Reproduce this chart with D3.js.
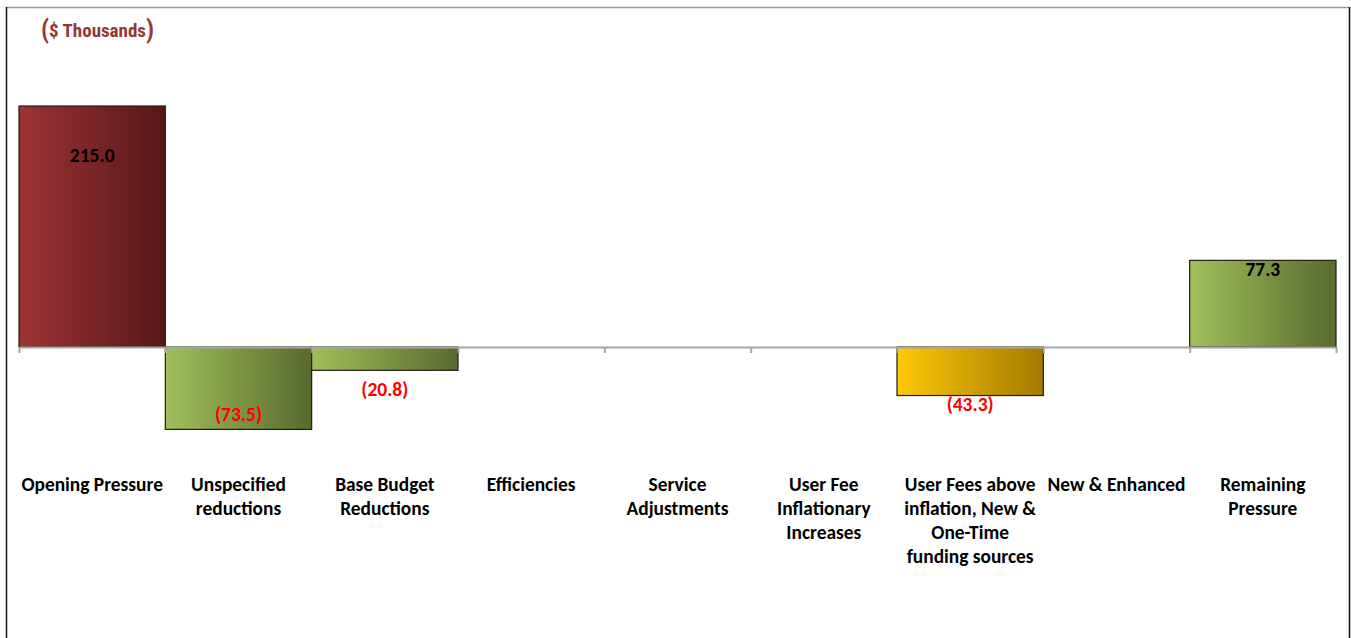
<!DOCTYPE html>
<html>
<head>
<meta charset="utf-8">
<script src="https://cdn.jsdelivr.net/npm/d3@7"></script>
<style>
  body { margin: 0; background: #fff; }
  svg { display: block; }
  .cat { font-family: Carlito, Calibri, Lato, sans-serif; font-weight: bold; font-size: 19.4px; fill: #000; }
  .val { font-family: Carlito, Calibri, Lato, sans-serif; font-weight: 900; font-size: 19.5px; }
</style>
</head>
<body>
<div id="chart"></div>
<script>
// categories (line-broken like the original) and values in $ thousands
var categories = ["Opening Pressure", "Unspecified reductions", "Base Budget Reductions", "Efficiencies",
                  "Service Adjustments", "User Fee Inflationary Increases",
                  "User Fees above inflation, New & One-Time funding sources", "New & Enhanced", "Remaining Pressure"];
var catLines = [["Opening Pressure"], ["Unspecified", "reductions"], ["Base Budget", "Reductions"], ["Efficiencies"],
                ["Service", "Adjustments"], ["User Fee", "Inflationary", "Increases"],
                ["User Fees above", "inflation, New &", "One-Time", "funding sources"], ["New & Enhanced"], ["Remaining", "Pressure"]];
var values = [215.0, -73.5, -20.8, 0, 0, 0, -43.3, 0, 77.3];
var valueLabels = ["215.0", "(73.5)", "(20.8)", "", "", "", "(43.3)", "", "77.3"];
var barKind = ["red", "green", "green", "green", "green", "green", "gold", "green", "green"];

var width = 1351, height = 638;
var zeroY = 347, k = 241 / 215;   // px per $ thousand

var svg = d3.select("#chart").append("svg")
            .attr("width", width)
            .attr("height", height);

var defs = svg.append("defs");
var grads = {
  red:   ["#9e3234", "#561618"],
  green: ["#a0c05a", "#586a2e"],
  gold:  ["#ffc808", "#a27a00"]
};
Object.keys(grads).forEach(function(key){
  var g = defs.append("linearGradient").attr("id", "g_" + key)
              .attr("x1", "0%").attr("x2", "100%").attr("y1", "0%").attr("y2", "0%");
  g.append("stop").attr("offset", "0%").attr("stop-color", grads[key][0]);
  g.append("stop").attr("offset", "100%").attr("stop-color", grads[key][1]);
});

// frame
svg.append("line").attr("x1", 7).attr("x2", 1349).attr("y1", 7.5).attr("y2", 7.5)
   .attr("stroke", "#9a9a9a").attr("stroke-width", 1.5);
svg.append("line").attr("x1", 6.5).attr("x2", 6.5).attr("y1", 7).attr("y2", height)
   .attr("stroke", "#111").attr("stroke-width", 1.5);
svg.append("line").attr("x1", 1349.5).attr("x2", 1349.5).attr("y1", 7).attr("y2", height)
   .attr("stroke", "#111").attr("stroke-width", 1.5);

// title
var title = svg.append("text")
   .attr("x", 41).attr("y", 38)
   .attr("fill", "#953735")
   .style("font-family", "'Liberation Sans Narrow', 'Arial Narrow', 'Roboto Condensed', sans-serif")
   .style("font-weight", "bold");
title.append("tspan").style("font-size", "25px").text("(");
title.append("tspan").style("font-size", "19px").attr("dy", -1).text("$ Thousands");
title.append("tspan").style("font-size", "25px").attr("dy", 1).text(")");

var x = d3.scaleBand().domain(categories).range([19, 1336]).padding(0);
var y = d3.scaleLinear().domain([-100, 250]).range([zeroY + 100 * k, zeroY - 250 * k]);

// bars
svg.append("g").attr("class", "bars")
   .selectAll("rect")
   .data(values.map(function(v, i){ return {v: v, i: i}; }).filter(function(d){ return d.v !== 0; }))
   .enter().append("rect")
   .attr("x", function(d){ return x(categories[d.i]); })
   .attr("width", x.bandwidth())
   .attr("y", function(d){ return y(Math.max(0, d.v)); })
   .attr("height", function(d){ return Math.abs(y(d.v) - y(0)); })
   .attr("fill", function(d){ return "url(#g_" + barKind[d.i] + ")"; })
   .attr("stroke", "#1e1e14")
   .attr("stroke-width", 1.2);

// axis: line at zero with ticks between categories
var tickScale = d3.scaleLinear().domain([0, categories.length]).range([19, 1336]);
var axis = svg.append("g").attr("transform", "translate(0," + y(0) + ")")
   .call(d3.axisBottom(tickScale).ticks(categories.length).tickFormat("").tickSizeInner(6).tickSizeOuter(0));
axis.select(".domain").attr("stroke", "#a6a6a6").attr("stroke-width", 2);
axis.selectAll(".tick line").attr("stroke", "#a6a6a6").attr("stroke-width", 2);

// value labels, nudged per bar the way the original was placed
var labelDy = {0: 56, 1: -8, 2: 26, 6: 15, 8: 16};
svg.append("g").selectAll("text")
   .data(values.map(function(v, i){ return {v: v, i: i}; }).filter(function(d){ return valueLabels[d.i] !== ""; }))
   .enter().append("text")
   .attr("class", "val")
   .attr("text-anchor", "middle")
   .attr("x", function(d){ return x(categories[d.i]) + x.bandwidth() / 2; })
   .attr("y", function(d){ return y(d.v) + labelDy[d.i]; })
   .attr("fill", function(d){ return d.v < 0 ? "#ff0000" : "#000"; })
   .text(function(d){ return valueLabels[d.i]; });

// category labels
var cat = svg.append("g").selectAll("text")
   .data(categories)
   .enter().append("text")
   .attr("class", "cat")
   .attr("text-anchor", "middle")
   .attr("x", function(d){ return x(d) + x.bandwidth() / 2; })
   .attr("y", 491);
cat.selectAll("tspan")
   .data(function(d, i){ return catLines[i]; })
   .enter().append("tspan")
   .attr("x", function(){ return this.parentNode.getAttribute("x"); })
   .attr("dy", function(d, j){ return j === 0 ? 0 : 24; })
   .text(function(d){ return d; });
</script>
</body>
</html>
